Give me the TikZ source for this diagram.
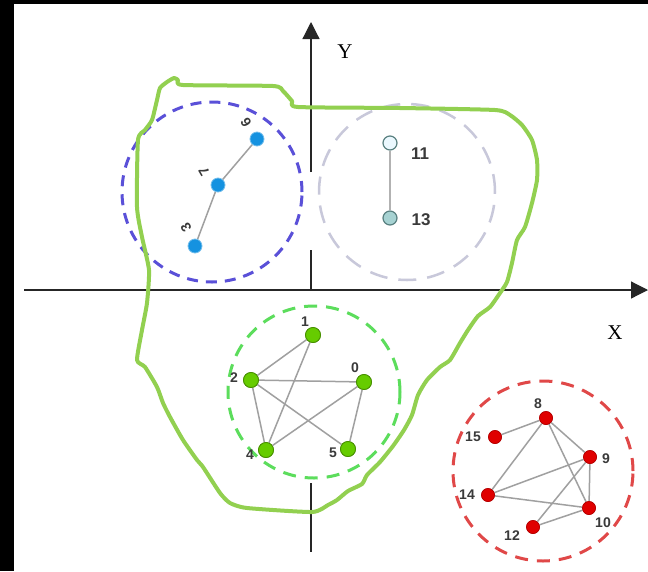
\documentclass[tikz,border=0pt]{standalone}
\usepackage{fontspec}
\setmainfont{Liberation Serif}
\newfontfamily\lblfont{Liberation Sans}
\usetikzlibrary{arrows.meta}
\definecolor{blobgreen}{HTML}{92D050}
\definecolor{bluering}{HTML}{5A50D8}
\definecolor{grayring}{HTML}{C8C8DA}
\definecolor{greenring}{HTML}{5CDD5C}
\definecolor{redring}{HTML}{E04848}
\definecolor{bluenode}{HTML}{1592E0}
\definecolor{greennode}{HTML}{66CC00}
\definecolor{rednode}{HTML}{E00000}
\definecolor{edgegray}{HTML}{A0A0A0}
\definecolor{lbl}{HTML}{3A3A3A}
\tikzset{
  vtx/.style={circle, inner sep=0pt, minimum size=#1},
  bnode/.style={vtx=14pt, fill=bluenode, draw=bluenode!60!white, line width=0.8pt},
  gnode/.style={vtx=15pt, fill=greennode, draw=greennode!70!black, line width=0.8pt},
  rnode/.style={vtx=13pt, fill=rednode, draw=rednode!80!black, line width=0.6pt},
  tnode/.style={vtx=14pt, draw=gray!70!teal, line width=1.2pt},
  edge/.style={draw=edgegray, line width=1.5pt},
  numlbl/.style={font=\lblfont\bfseries\fontsize{14}{14}\selectfont, text=lbl, inner sep=0pt},
  biglbl/.style={font=\lblfont\bfseries\fontsize{17}{17}\selectfont, text=lbl, inner sep=0pt},
  axis/.style={draw=black!85, line width=1.2pt},
  ring/.style={line width=3pt, dash pattern=on 13pt off 9pt},
}
\begin{document}
\begin{tikzpicture}[x=1pt,y=-1pt]
\fill[black] (0,0) rectangle (648,571);
\fill[white] (14,4) rectangle (648,571);
\useasboundingbox (0,0) rectangle (648,571);

% axes
\coordinate (xs) at (24,290);
\coordinate (xe) at (648,290);
\draw[axis, -{Triangle[length=17pt,width=17pt]}] (xs) -- (xe);
\coordinate (ya) at (311,290);
\coordinate (yb) at (311,250);
\coordinate (yc) at (311,172);
\coordinate (yd) at (311,22);
\coordinate (ye) at (311,483);
\coordinate (yf) at (311,552);
\draw[axis] (ya) -- (yb);
\draw[axis, -{Triangle[length=17pt,width=17pt]}] (yc) -- (yd);
\draw[axis] (ye) -- (yf);
\node[font=\fontsize{21}{21}\selectfont, inner sep=0pt] (ylab) at (345,52) {Y};
\node[font=\fontsize{21}{21}\selectfont, inner sep=0pt] (xlab) at (615,333) {X};

% rings
\draw[ring, draw=bluering, dash pattern=on 11pt off 8pt] (212,192) circle[radius=90pt];
\draw[ring, draw=grayring, line width=2.5pt, dash pattern=on 18pt off 11pt] (407,192) circle[radius=88pt];
\draw[ring, draw=greenring] (314,392) circle[radius=86pt];
\draw[ring, draw=redring] (543,471) circle[radius=90pt];

% blue cluster
\node[bnode] (n6) at (257,139) {};
\node[bnode] (n7) at (218,185) {};
\node[bnode] (n3) at (195,246) {};
\draw[edge] (n3) -- (n7) -- (n6);
\node[numlbl, rotate=120] (l6) at (246,123) {6};
\node[numlbl, rotate=120] (l7) at (204,172) {7};
\node[numlbl, rotate=120] (l3) at (186,228) {3};

% gray cluster
\node[tnode, fill=cyan!8!white] (n11) at (390,143) {};
\node[tnode, fill=teal!35!white] (n13) at (390,218) {};
\draw[edge, draw=gray!60] (n11) -- (n13);
\node[biglbl] (l11) at (420,154) {11};
\node[biglbl] (l13) at (421,220) {13};

% green cluster
\node[gnode] (n1) at (313,335) {};
\node[gnode] (n2) at (251,380) {};
\node[gnode] (n0) at (364,382) {};
\node[gnode] (n4) at (266,450) {};
\node[gnode] (n5) at (348,449) {};
\draw[edge] (n1) -- (n2);
\draw[edge] (n1) -- (n4);
\draw[edge] (n2) -- (n0);
\draw[edge] (n2) -- (n4);
\draw[edge] (n2) -- (n5);
\draw[edge] (n0) -- (n4);
\draw[edge] (n0) -- (n5);
\node[gnode] at (n1) {};
\node[gnode] at (n2) {};
\node[gnode] at (n0) {};
\node[gnode] at (n4) {};
\node[gnode] at (n5) {};
\node[numlbl] (l1) at (305,322) {1};
\node[numlbl] (l2) at (234,378) {2};
\node[numlbl] (l0) at (355,368) {0};
\node[numlbl] (l4) at (250,455) {4};
\node[numlbl] (l5) at (333,453) {5};

% red cluster
\node[rnode] (n8) at (546,418) {};
\node[rnode] (n15) at (495,437) {};
\node[rnode] (n9) at (590,457) {};
\node[rnode] (n14) at (488,495) {};
\node[rnode] (n10) at (589,508) {};
\node[rnode] (n12) at (533,527) {};
\draw[edge] (n8) -- (n15);
\draw[edge] (n8) -- (n14);
\draw[edge] (n8) -- (n9);
\draw[edge] (n8) -- (n10);
\draw[edge] (n9) -- (n14);
\draw[edge] (n9) -- (n12);
\draw[edge] (n9) -- (n10);
\draw[edge] (n14) -- (n10);
\draw[edge] (n12) -- (n10);
\node[rnode] at (n8) {};
\node[rnode] at (n15) {};
\node[rnode] at (n9) {};
\node[rnode] at (n14) {};
\node[rnode] at (n10) {};
\node[rnode] at (n12) {};
\node[numlbl] (l8) at (538,404) {8};
\node[numlbl] (l15) at (473,437) {15};
\node[numlbl] (l9) at (606,459) {9};
\node[numlbl] (l14) at (467,495) {14};
\node[numlbl] (l10) at (603,523) {10};
\node[numlbl] (l12) at (512,536) {12};

% green blob
\draw[blobgreen, line width=4pt, line join=round, line cap=round]
  plot[smooth cycle, tension=0.35] coordinates {
  (157,100) (160,88) (167,82) (174,78) (178,80) (183,85) (273,86) (283,91)
  (292,101) (298,107) (400,108) (495,110) (510,115) (522,125) (532,140)
  (537,160) (537,180) (532,203) (525,227) (517,240) (512,263) (507,282)
  (500,293) (490,307) (478,316) (468,330) (460,343) (450,360) (440,367)
  (427,380) (418,395) (412,415) (404,430) (393,446) (380,462) (367,475)
  (362,484) (348,491) (337,500) (328,505) (312,512) (247,508) (230,503)
  (220,493) (203,467) (197,460) (183,440) (170,417) (163,403) (157,387)
  (145,367) (137,360) (142,330) (147,303) (149,270) (142,237) (137,207)
  (138,140) (145,130) (152,120) };
\end{tikzpicture}
\end{document}
